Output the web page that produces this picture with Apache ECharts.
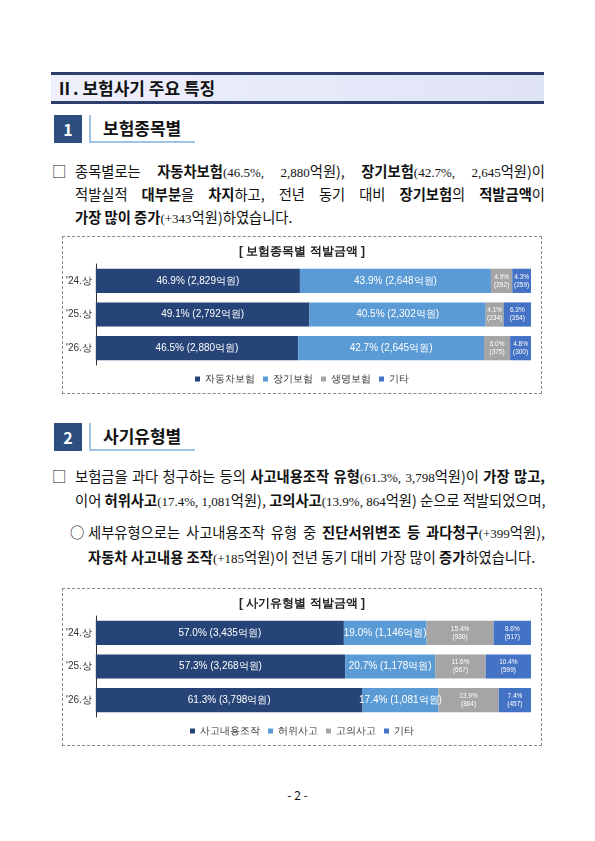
<!DOCTYPE html>
<html><head><meta charset="utf-8">
<script src="https://cdn.jsdelivr.net/npm/echarts@6/dist/echarts.min.js"></script>
<style>
body{margin:0;width:595px;height:841px;background:#fff;position:relative;font-family:"Noto Sans CJK KR","Noto Sans",sans-serif;color:#111;overflow:hidden}
.abs{position:absolute}
.band{left:51px;top:72px;width:488px;height:26px;border-top:3px solid #2e3f6e;border-bottom:3px solid #2e3f6e;background:linear-gradient(to right,#eef0fb,#dfe3f6);font-weight:bold;font-size:17px;line-height:26px;padding-left:5px;box-sizing:content-box}
.num{left:54px;width:28px;height:28px;background:#2d4f80;color:#fff;font-weight:bold;font-size:16px;text-align:center;line-height:28px}
.sec{left:89px;width:106px;height:28px;border-left:2px solid #9dc3e6;border-bottom:2px solid #9dc3e6;font-weight:bold;font-size:17px;line-height:26px;padding-left:12px;box-sizing:border-box}
.ln{font-size:14.3px;white-space:nowrap;text-align:justify;text-align-last:justify;height:22px;line-height:22px}
.ln b{font-weight:bold}
.sm{font-family:"Liberation Serif",serif;font-size:13px}
.box{border:1px dashed #888;}
</style></head><body>
<div class="abs band">Ⅱ. 보험사기 주요 특징</div>
<div class="abs num" style="top:115px">1</div>
<div class="abs sec" style="top:115px">보험종목별</div>
<div class="abs ln" style="left:52px;top:160px">□</div>
<div class="abs ln" style="left:75px;top:160px;width:470px">종목별로는 <b>자동차보험</b><span class="sm">(46.5%, 2,880</span>억원), <b>장기보험</b><span class="sm">(42.7%, 2,645</span>억원)이</div>
<div class="abs ln" style="left:75px;top:183px;width:470px">적발실적 <b>대부분</b>을 <b>차지</b>하고, 전년 동기 대비 <b>장기보험</b>의 <b>적발금액</b>이</div>
<div class="abs ln" style="left:75px;top:206px;text-align:left;text-align-last:left"><b>가장 많이 증가</b><span class="sm">(+343</span>억원)하였습니다.</div>
<div class="abs box" style="left:62px;top:236px;width:478px;height:156px"><div id="c1" style="width:478px;height:156px"></div></div>

<div class="abs num" style="top:423px">2</div>
<div class="abs sec" style="top:423px">사기유형별</div>
<div class="abs ln" style="left:52px;top:465px">□</div>
<div class="abs ln" style="left:75px;top:465px;width:470px">보험금을 과다 청구하는 등의 <b>사고내용조작 유형</b><span class="sm">(61.3%, 3,798</span>억원)이 <b>가장 많고,</b></div>
<div class="abs ln" style="left:75px;top:489px;width:470px">이어 <b>허위사고</b><span class="sm">(17.4%, 1,081</span>억원), <b>고의사고</b><span class="sm">(13.9%, 864</span>억원) 순으로 적발되었으며,</div>
<div class="abs ln" style="left:70px;top:521px">○</div>
<div class="abs ln" style="left:88px;top:521px;width:457px">세부유형으로는 사고내용조작 유형 중 <b>진단서위변조 등 과다청구</b><span class="sm">(+399</span>억원),</div>
<div class="abs ln" style="left:88px;top:546px;text-align:left;text-align-last:left"><b>자동차 사고내용 조작</b><span class="sm">(+185</span>억원)이 전년 동기 대비 가장 많이 <b>증가</b>하였습니다.</div>
<div class="abs box" style="left:62px;top:588px;width:478px;height:156px"><div id="c2" style="width:478px;height:156px"></div></div>
<div class="abs" style="left:0;width:595px;top:786px;text-align:center;font-size:12px">- 2 -</div>
<script>
const cats = ["'24.상","'25.상","'26.상"];
const names1 = ["자동차보험","장기보험","생명보험","기타"];
const pct1 = [[46.9,49.1,46.5],[43.9,40.5,42.7],[4.9,4.1,6.0],[4.3,6.3,4.8]];
const amt1 = [["2,829","2,792","2,880"],["2,648","2,302","2,645"],["292","234","375"],["259","354","300"]];
const cats2 = ["'24.상","'25.상","'26.상"];
const names2 = ["사고내용조작","허위사고","고의사고","기타"];
const pct2 = [[57.0,57.3,61.3],[19.0,20.7,17.4],[15.4,11.6,13.9],[8.6,10.4,7.4]];
const amt2 = [["3,435","3,268","3,798"],["1,146","1,178","1,081"],["930","667","864"],["517","599","457"]];
const colors = ["#264478","#5b9bd5","#a5a5a5","#4472c4"];
function make(id,title,cat,names,pct,amt){
  const c = echarts.init(document.getElementById(id));
  c.setOption({
    animation:false,
    title:{text:title,left:'center',top:4,textStyle:{fontSize:12,fontWeight:'bold',color:'#222'}},
    legend:{bottom:4,itemWidth:5,itemHeight:5,itemGap:8,icon:'rect',textStyle:{fontSize:10,color:'#333'},data:names},
    grid:{left:27,right:10,top:27,bottom:28},
    xAxis:{type:'value',min:0,max:100,show:false},
    yAxis:{type:'category',data:cat,inverse:true,axisTick:{show:false},axisLine:{lineStyle:{color:'#333'}},axisLabel:{fontSize:10,color:'#333',margin:4}},
    series:names.map((n,i)=>({
      name:n,type:'bar',stack:'a',barWidth:'72%',itemStyle:{color:colors[i]},
      data:pct[i],
      label:{show:true,color:'#fff',fontSize:i<2?10:6.5,lineHeight:i<2?10:8,
        formatter:p=> i<2 ? p.value.toFixed(1)+'% ('+amt[i][p.dataIndex]+'억원)' : p.value.toFixed(1)+'%\n('+amt[i][p.dataIndex]+')'}
    }))
  });
}
make('c1','[ 보험종목별 적발금액 ]',cats,names1,pct1,amt1);
make('c2','[ 사기유형별 적발금액 ]',cats2,names2,pct2,amt2);
</script>
</body></html>
